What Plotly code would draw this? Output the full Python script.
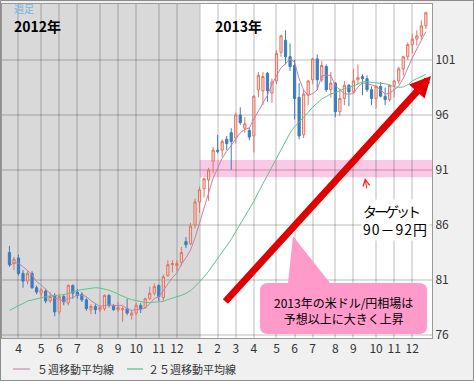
import plotly.graph_objects as go
import pandas as pd

FONT = "Noto Sans CJK JP"

# ---------------- data (weekly USD/JPY) ----------------
week_start = "2012-03-19"
opens = [83.5, 82.5, 83.0, 81.6, 80.9, 81.6, 80.3, 79.8, 80.0, 79.1,
         79.6, 78.1, 79.5, 78.9, 80.5, 79.9, 79.7, 79.2, 78.3, 78.6,
         78.3, 78.4, 79.6, 78.7, 78.3, 78.3, 78.4, 77.8, 78.0, 78.7,
         78.5, 79.3, 79.8, 80.5, 79.4, 81.4, 82.4, 82.3, 82.6, 84.5,
         84.3, 86.0, 88.1, 89.3, 90.1, 91.8, 92.8, 92.8, 93.8, 94.4,
         93.9, 96.0, 94.8, 94.6, 94.1, 98.3, 98.2, 99.8, 98.0, 99.1,
         101.7, 102.8, 101.3, 100.5, 97.6, 94.2, 97.8, 99.2, 101.1, 99.2,
         100.4, 98.3, 98.9, 96.3, 97.5, 98.7, 98.1, 99.2, 99.5, 99.3,
         98.3, 97.5, 98.6, 97.7, 97.4, 98.7, 99.1, 100.2, 101.3, 102.4,
         102.9, 103.2, 104.1]
highs = [84.1, 83.1, 83.3, 81.9, 81.8, 81.8, 80.5, 80.3, 80.2, 79.9,
         79.8, 79.7, 79.7, 80.6, 80.6, 80.2, 79.9, 79.4, 78.8, 78.8,
         78.7, 79.7, 79.7, 78.8, 79.0, 78.6, 79.3, 78.3, 78.9, 78.9,
         79.4, 80.4, 80.7, 80.6, 81.5, 82.8, 82.8, 82.8, 84.0, 84.9,
         86.2, 88.4, 89.5, 90.3, 91.2, 93.1, 94.2, 93.8, 94.1, 94.8,
         96.2, 96.7, 95.8, 94.9, 97.8, 99.9, 99.9, 99.9, 99.3, 101.9,
         103.3, 103.7, 102.5, 101.0, 98.9, 98.3, 99.2, 101.2, 101.5, 100.9,
         100.6, 99.9, 99.0, 98.4, 99.1, 98.8, 100.2, 100.6, 99.7, 99.6,
         98.6, 98.7, 99.0, 98.5, 98.8, 99.2, 100.4, 101.4, 102.6, 103.4,
         103.7, 104.6, 105.4]
lows = [82.2, 81.9, 81.4, 80.3, 80.6, 80.2, 79.7, 79.5, 78.9, 78.9,
        77.7, 77.9, 78.7, 78.7, 79.3, 79.3, 79.0, 78.2, 77.9, 77.9,
        78.1, 78.2, 78.5, 78.2, 78.1, 77.2, 77.8, 77.4, 77.8, 78.0,
        78.4, 79.2, 79.6, 79.1, 79.1, 81.3, 81.7, 81.8, 82.3, 83.9,
        84.2, 85.7, 87.1, 88.5, 88.2, 90.7, 92.5, 92.2, 92.8, 91.0,
        93.4, 95.1, 94.4, 93.7, 92.6, 97.6, 96.9, 97.2, 97.1, 98.8,
        101.3, 100.6, 100.0, 95.6, 93.8, 93.9, 96.9, 98.8, 98.3, 99.0,
        98.1, 97.6, 95.8, 95.9, 96.9, 96.8, 98.0, 98.8, 97.8, 98.1,
        96.9, 96.6, 97.6, 96.9, 97.2, 97.6, 98.8, 99.6, 101.0, 101.6,
        102.3, 102.8, 103.8]
closes = [82.4, 82.9, 81.6, 80.9, 81.6, 80.3, 79.9, 80.1, 79.1, 79.5,
          78.1, 79.5, 79.0, 80.5, 79.8, 79.6, 79.2, 78.4, 78.6, 78.3,
          78.5, 79.6, 78.7, 78.3, 78.5, 78.4, 78.0, 78.0, 78.7, 78.4,
          79.3, 79.8, 80.4, 79.5, 81.3, 82.4, 82.5, 82.5, 83.5, 84.2,
          85.9, 88.1, 89.2, 90.2, 91.0, 92.8, 92.7, 93.6, 93.4, 93.6,
          96.0, 95.3, 95.2, 94.0, 97.7, 99.6, 99.5, 98.2, 99.0, 101.6,
          103.2, 101.3, 100.4, 97.5, 94.1, 97.9, 99.1, 101.1, 99.2, 100.5,
          98.3, 98.9, 96.3, 97.5, 98.7, 98.1, 99.1, 99.4, 99.3, 98.3,
          97.5, 98.6, 97.7, 97.4, 98.7, 99.1, 100.2, 101.3, 102.4, 102.9,
          103.2, 104.1, 105.3]
# 24 weekly closes before the first candle (needed for the moving averages)
prior_closes = [76.7, 76.9, 76.2, 75.8, 78.0, 77.0, 76.9, 77.7, 77.9, 77.7,
                77.8, 78.1, 76.9, 76.9, 76.9, 76.9, 76.7, 76.6, 77.6, 79.5,
                81.2, 81.8, 82.4, 83.4]

tick_dates = ["2012-04-02", "2012-05-07", "2012-06-04", "2012-07-02", "2012-08-06",
              "2012-09-03", "2012-10-01", "2012-11-05", "2012-12-03", "2013-01-07",
              "2013-02-04", "2013-03-04", "2013-04-01", "2013-05-06", "2013-06-03",
              "2013-07-01", "2013-08-05", "2013-09-02", "2013-10-07", "2013-11-04",
              "2013-12-02"]
tick_labels = ["4", "5", "6", "7", "8", "9", "10", "11", "12", "1",
               "2", "3", "4", "5", "6", "7", "8", "9", "10", "11", "12"]
y_ticks = [76, 81, 86, 91, 96, 101]
target_low, target_high = 90.35, 91.9
year2013_start = "2013-01-07"

dates = pd.date_range(week_start, periods=len(closes), freq="7D")
all_close = pd.Series(prior_closes + closes)
ma5 = all_close.rolling(5).mean().iloc[len(prior_closes):].tolist()
ma25 = all_close.rolling(25).mean().iloc[len(prior_closes):].tolist()

x_range = ["2012-03-07 12:00", "2014-01-01 12:00"]
y_range = [75.73, 106.09]

# plot-area pixel helpers (plot area: x 2..432, y 4..338)
def px(x):
    return (x - 2) / 430.0


def py(y):
    return (338 - y) / 334.0


fig = go.Figure()
fig.add_trace(go.Candlestick(
    x=dates, open=opens, high=highs, low=lows, close=closes,
    increasing=dict(line=dict(color="#e2745f", width=1), fillcolor="rgba(246,205,195,0.7)"),
    decreasing=dict(line=dict(color="#3b7dbf", width=1), fillcolor="#3b7dbf"),
    whiskerwidth=0, showlegend=False, hoverinfo="skip"))
fig.add_trace(go.Scatter(x=dates, y=ma5, mode="lines",
                         line=dict(color="#c77fa8", width=1), showlegend=False, hoverinfo="skip"))
fig.add_trace(go.Scatter(x=dates, y=ma25, mode="lines",
                         line=dict(color="#5cc48c", width=1), showlegend=False, hoverinfo="skip"))

shapes = [
    dict(type="rect", xref="x", yref="paper", x0=x_range[0], x1=year2013_start, y0=0, y1=1,
         fillcolor="#d9d9d9", line=dict(width=0), layer="below"),
    dict(type="rect", xref="x", yref="y", x0=year2013_start, x1=x_range[1],
         y0=target_low, y1=target_high, fillcolor="#fcc8e6", line=dict(width=0), layer="below"),
    # outer frame of the picture
    dict(type="rect", xref="paper", yref="paper", x0=px(0.5), x1=px(473.5), y0=py(380.5), y1=py(0.5),
         line=dict(color="#8c8c8c", width=1), fillcolor="rgba(0,0,0,0)"),
    # legend samples
    dict(type="line", xref="paper", yref="paper", x0=px(13), x1=px(30), y0=py(369), y1=py(369),
         line=dict(color="#d6a0bc", width=1.5)),
    dict(type="line", xref="paper", yref="paper", x0=px(127), x1=px(143), y0=py(369), y1=py(369),
         line=dict(color="#6fcc9a", width=1.5)),
]

# callout bubble (rounded box + pointer)
r = 8
L, R, T, B = 260, 427, 283, 334
pts = (f"M{px(L + r)},{py(T)} L{px(288)},{py(T)} L{px(293)},{py(236)} L{px(330)},{py(T)} "
       f"L{px(R - r)},{py(T)} Q{px(R)},{py(T)} {px(R)},{py(T + r)} "
       f"L{px(R)},{py(B - r)} Q{px(R)},{py(B)} {px(R - r)},{py(B)} "
       f"L{px(L + r)},{py(B)} Q{px(L)},{py(B)} {px(L)},{py(B - r)} "
       f"L{px(L)},{py(T + r)} Q{px(L)},{py(T)} {px(L + r)},{py(T)} Z")
shapes.append(dict(type="path", xref="paper", yref="paper", path=pts,
                   fillcolor="#ff9acb", line=dict(width=0), layer="above"))

annotations = [
    dict(text="週足", x=px(12), y=py(9), xref="paper", yref="paper", xanchor="left", yanchor="middle",
         showarrow=False, font=dict(family=FONT, size=10, color="#74b6e0")),
    dict(text="<b>2012年</b>", x=px(12), y=py(26.5), xref="paper", yref="paper", xanchor="left",
         yanchor="middle", showarrow=False, font=dict(family=FONT, size=14, color="#000")),
    dict(text="<b>2013年</b>", x=px(213), y=py(26.5), xref="paper", yref="paper", xanchor="left",
         yanchor="middle", showarrow=False, font=dict(family=FONT, size=14, color="#000")),
    # big red arrow
    dict(text="", x=px(431), y=py(76), xref="paper", yref="paper", ax=224 - 431, ay=303 - 76,
         axref="pixel", ayref="pixel", showarrow=True, arrowhead=2, arrowsize=0.6,
         arrowwidth=7, arrowcolor="#e00000", standoff=0),
    # thin arrow to the target band
    dict(text="", x=px(365), y=py(178), xref="paper", yref="paper", ax=2, ay=12,
         axref="pixel", ayref="pixel", showarrow=True, arrowhead=5, arrowsize=1.3,
         arrowwidth=1, arrowcolor="#ff2020", standoff=0),
    dict(text="<span style='letter-spacing:-3px'>ターゲット</span><br>"
              "<span style='letter-spacing:1px'>90－92円</span>",
         x=px(361), y=py(220), xref="paper", yref="paper",
         xanchor="left", yanchor="middle", align="left", showarrow=False, bgcolor="#ffffff",
         font=dict(family=FONT, size=14, color="#000")),
    dict(text="2013年の米ドル/円相場は<br>予想以上に大きく上昇", x=px(343), y=py(310),
         xref="paper", yref="paper", xanchor="center", yanchor="middle", align="center",
         showarrow=False, font=dict(family=FONT, size=12, color="#000")),
    dict(text="５週移動平均線", x=px(35), y=py(369), xref="paper", yref="paper", xanchor="left",
         yanchor="middle", showarrow=False, font=dict(family=FONT, size=11, color="#333")),
    dict(text="２５週移動平均線", x=px(146), y=py(369), xref="paper", yref="paper", xanchor="left",
         yanchor="middle", showarrow=False, font=dict(family=FONT, size=11, color="#333")),
]

grid = "rgba(0,0,0,0.13)"
fig.update_layout(
    width=474, height=381,
    margin=dict(l=2, r=42, t=4, b=43),
    paper_bgcolor="#f0f0f0", plot_bgcolor="#ffffff",
    shapes=shapes, annotations=annotations,
    font=dict(family=FONT, size=12, color="#333"),
    xaxis=dict(type="date", range=x_range, tickvals=tick_dates, ticktext=tick_labels,
               showgrid=True, gridcolor=grid, gridwidth=2, showline=True, linecolor="#9a9a9a",
               linewidth=1, mirror=True, ticks="", zeroline=False,
               rangeslider=dict(visible=False), tickfont=dict(family=FONT, size=12, color="#333")),
    yaxis=dict(side="right", range=y_range, tickvals=y_ticks, showgrid=True, gridcolor=grid,
               gridwidth=2, showline=True, linecolor="#9a9a9a", linewidth=1, mirror=True,
               ticks="", zeroline=False, tickfont=dict(family=FONT, size=12, color="#333")),
    showlegend=False,
    hovermode=False,
)

fig.write_html("out.html", config={"displayModeBar": False, "staticPlot": True},
               post_script="document.body.style.margin='0';document.body.style.overflow='hidden';")
